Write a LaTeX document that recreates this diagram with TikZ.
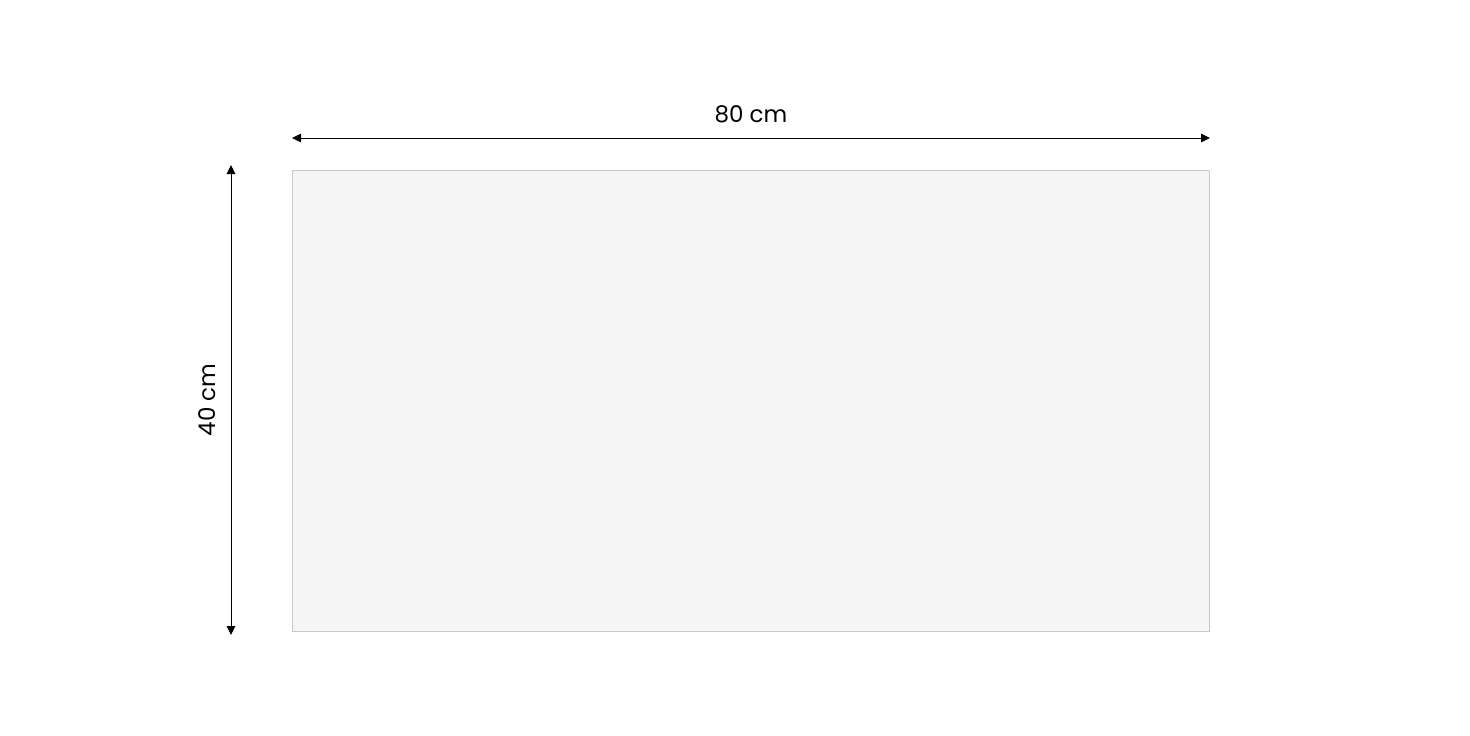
\documentclass[tikz,border=0pt]{standalone}
\usepackage{fontspec}
\setmainfont{Poppins}
\usepackage{xcolor}
\usetikzlibrary{arrows.meta}
\definecolor{panelfill}{HTML}{F5F5F6}
\definecolor{panelline}{HTML}{C8C8C8}
\tikzset{
  dimline/.style={line width=0.9pt, {Triangle[length=9pt,width=8.5pt]}-{Triangle[length=9pt,width=8.5pt]}},
  dimlabel/.style={font=\fontsize{23}{27}\selectfont, inner sep=0pt}
}

\begin{document}
\begin{tikzpicture}[x=1pt, y=-1pt]
    \useasboundingbox (0,0) rectangle (1470,736);

    %PANEL
    \filldraw[fill=panelfill, draw=panelline, line width=1pt] (292.5,170) rectangle (1209.5,631);

    %UKURAN
    \coordinate (wl) at (292,138);
    \coordinate (wr) at (1210,138);
    \draw[dimline] (wl) -- (wr) node[dimlabel, midway, above=15pt]{80 cm};

    \coordinate (ht) at (231,165);
    \coordinate (hb) at (231,635);
    \draw[dimline] (ht) -- (hb) node[dimlabel, midway, left=15pt, rotate=90, anchor=south]{40 cm};

\end{tikzpicture}
\end{document}
